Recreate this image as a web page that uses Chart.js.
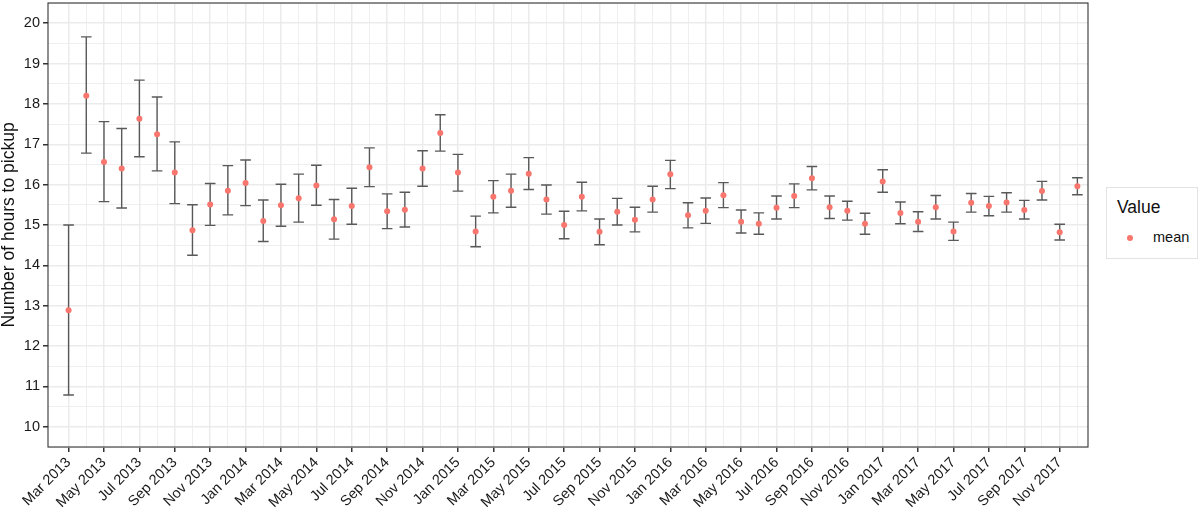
<!DOCTYPE html>
<html><head>
<meta charset="utf-8">
<title>Number of hours to pickup</title>
<script src="https://cdn.jsdelivr.net/npm/chart.js"></script>
<style>
  html, body { margin:0; padding:0; background:#fff; }
  #wrap { position:relative; width:1200px; height:511px; font-family:'Liberation Sans', Arial, sans-serif; }
  #legend { position:absolute; left:1106px; top:187px; width:92px; height:72px; border:1px solid #e3e3e3; box-sizing:border-box; background:#fff; }
  #legend .ttl { position:absolute; left:10px; top:9px; font-size:17.5px; color:#111; }
  #legend .dot { position:absolute; left:20px; top:47px; width:6px; height:6px; border-radius:50%; background:#F8766D; }
  #legend .lbl { position:absolute; left:46px; top:41px; font-size:14.5px; color:#111; }
</style>
</head><body>
<div id="wrap">
  <canvas id="chart" width="1200" height="511"></canvas>
  <div id="legend"><div class="ttl">Value</div><div class="dot"></div><div class="lbl">mean</div></div>
</div>
<script>
// one point per month, Mar 2013 .. Dec 2017
const months = [
  "Mar 2013","Apr 2013","May 2013","Jun 2013","Jul 2013","Aug 2013","Sep 2013","Oct 2013","Nov 2013","Dec 2013",
  "Jan 2014","Feb 2014","Mar 2014","Apr 2014","May 2014","Jun 2014","Jul 2014","Aug 2014","Sep 2014","Oct 2014","Nov 2014","Dec 2014",
  "Jan 2015","Feb 2015","Mar 2015","Apr 2015","May 2015","Jun 2015","Jul 2015","Aug 2015","Sep 2015","Oct 2015","Nov 2015","Dec 2015",
  "Jan 2016","Feb 2016","Mar 2016","Apr 2016","May 2016","Jun 2016","Jul 2016","Aug 2016","Sep 2016","Oct 2016","Nov 2016","Dec 2016",
  "Jan 2017","Feb 2017","Mar 2017","Apr 2017","May 2017","Jun 2017","Jul 2017","Aug 2017","Sep 2017","Oct 2017","Nov 2017","Dec 2017"
];
const means = [12.89, 18.2, 16.56, 16.4, 17.63, 17.25, 16.3, 14.87, 15.51, 15.85,
  16.04, 15.1, 15.49, 15.66, 15.98, 15.14, 15.47, 16.43, 15.34, 15.38, 16.4, 17.28,
  16.3, 14.84, 15.7, 15.85, 16.27, 15.63, 15.0, 15.7, 14.83, 15.33, 15.13, 15.63,
  16.26, 15.24, 15.35, 15.74, 15.08, 15.03, 15.43, 15.72, 16.16, 15.44, 15.35, 15.03,
  16.08, 15.3, 15.08, 15.44, 14.84, 15.55, 15.47, 15.56, 15.37, 15.84, 14.82, 15.96];
const upper = [15.0, 19.66, 17.56, 17.39, 18.59, 18.17, 17.06, 15.5, 16.03, 16.47,
  16.61, 15.62, 16.01, 16.26, 16.48, 15.63, 15.91, 16.91, 15.77, 15.81, 16.84, 17.73,
  16.75, 15.22, 16.1, 16.26, 16.67, 15.99, 15.34, 16.06, 15.15, 15.66, 15.44, 15.96,
  16.6, 15.55, 15.67, 16.05, 15.37, 15.3, 15.72, 16.02, 16.45, 15.72, 15.59, 15.29,
  16.37, 15.57, 15.33, 15.73, 15.07, 15.78, 15.71, 15.8, 15.61, 16.08, 15.02, 16.17];
const lower = [10.79, 16.78, 15.58, 15.42, 16.69, 16.34, 15.53, 14.25, 14.99, 15.25,
  15.48, 14.59, 14.97, 15.07, 15.49, 14.65, 15.02, 15.95, 14.91, 14.95, 15.96, 16.83,
  15.84, 14.46, 15.3, 15.44, 15.88, 15.27, 14.66, 15.35, 14.51, 15.0, 14.83, 15.32,
  15.9, 14.93, 15.04, 15.43, 14.8, 14.77, 15.15, 15.43, 15.87, 15.16, 15.12, 14.77,
  15.81, 15.03, 14.84, 15.15, 14.62, 15.32, 15.23, 15.32, 15.15, 15.62, 14.63, 15.75];
const yTicks = [10, 11, 12, 13, 14, 15, 16, 17, 18, 19, 20];

const GRID = '#EBEBEB';
const FONT = "'Liberation Sans', Arial, sans-serif";

// error bars go under the points, panel border on top of everything
const errorBars = {
  id: 'errorBars',
  beforeDatasetsDraw(chart) {
    const { ctx, scales: { x, y } } = chart;
    const cap = x.getPixelForValue(0.3) - x.getPixelForValue(0);
    ctx.save();
    ctx.strokeStyle = '#595959';
    ctx.lineWidth = 1.4;
    lower.forEach((lo, i) => {
      const px = x.getPixelForValue(i);
      const yl = y.getPixelForValue(lo), yu = y.getPixelForValue(upper[i]);
      ctx.beginPath();
      ctx.moveTo(px, yl); ctx.lineTo(px, yu);
      ctx.moveTo(px - cap, yl); ctx.lineTo(px + cap, yl);
      ctx.moveTo(px - cap, yu); ctx.lineTo(px + cap, yu);
      ctx.stroke();
    });
    ctx.restore();
  },
  afterDraw(chart) {
    const { ctx, chartArea: a } = chart;
    ctx.save();
    ctx.strokeStyle = '#333';
    ctx.lineWidth = 1.1;
    ctx.strokeRect(a.left, a.top, a.right - a.left, a.bottom - a.top);
    ctx.restore();
  }
};

new Chart(document.getElementById('chart'), {
  type: 'scatter',
  data: {
    datasets: [{
      label: 'mean',
      data: means.map((v, i) => ({ x: i, y: v })),
      backgroundColor: '#F8766D',
      borderWidth: 0,
      pointRadius: 3,
      pointHoverRadius: 3
    }]
  },
  options: {
    responsive: false,
    animation: false,
    events: [],
    layout: { padding: { top: 1, right: 112, left: 0, bottom: 0 } },
    plugins: { legend: { display: false }, tooltip: { enabled: false } },
    scales: {
      x: {
        type: 'linear',
        min: -1.163,
        max: 57.6,
        afterBuildTicks: s => { s.ticks = months.map((m, i) => ({ value: i })); },
        afterFit: s => { s.height = 64; s.paddingLeft = 0; s.paddingRight = 0; },
        grid: {
          color: GRID,
          lineWidth: c => (c.tick && c.tick.value % 2 === 0) ? 1.5 : 0.8,
          tickColor: c => (c.tick && c.tick.value % 2 === 0) ? '#333' : 'rgba(0,0,0,0)',
          tickLength: 5,
          drawTicks: true
        },
        border: { display: false },
        ticks: {
          autoSkip: false,
          minRotation: 45,
          maxRotation: 45,
          padding: 2,
          color: '#1a1a1a',
          font: { family: FONT, size: 14.5 },
          callback: v => (v % 2 === 0) ? months[v] : ''
        }
      },
      y: {
        min: 9.5,
        max: 20.5,
        afterBuildTicks: s => {
          const t = [];
          yTicks.forEach(v => { t.push({ value: v - 0.5 }); t.push({ value: v }); });
          t.push({ value: 20.5 });
          s.ticks = t;
        },
        afterFit: s => { s.width = 48; s.paddingTop = 0; s.paddingBottom = 0; },
        grid: {
          color: GRID,
          lineWidth: c => (c.tick && yTicks.includes(c.tick.value)) ? 1.5 : 0.8,
          tickColor: c => (c.tick && yTicks.includes(c.tick.value)) ? '#333' : 'rgba(0,0,0,0)',
          tickLength: 5
        },
        border: { display: false },
        title: {
          display: true,
          text: 'Number of hours to pickup',
          color: '#111',
          padding: { top: 0, bottom: 0 },
          font: { family: FONT, size: 17.5, lineHeight: 1 }
        },
        ticks: {
          autoSkip: false,
          padding: 3,
          color: '#1a1a1a',
          font: { family: FONT, size: 14.5 },
          callback: v => yTicks.includes(v) ? String(v) : ''
        }
      }
    }
  },
  plugins: [errorBars]
});
</script>
</body></html>
